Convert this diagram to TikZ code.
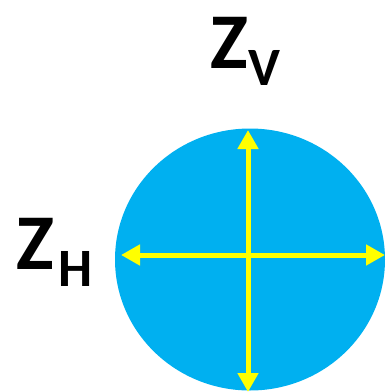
\documentclass[tikz,border=0pt]{standalone}
\usepackage{fontspec}
\setmainfont{Carlito}
\usetikzlibrary{arrows.meta}
\definecolor{skyblue}{HTML}{00B0F0}
\definecolor{brightyellow}{HTML}{FFFF00}
\tikzset{
  axisarrow/.style={draw=brightyellow, line width=5pt, {Triangle[width=20pt,length=19pt]}-{Triangle[width=20pt,length=19pt]}},
  biglabel/.style={inner sep=0pt, anchor=base west, font=\bfseries\fontsize{79}{80}\selectfont}
}
\newcommand{\subl}[1]{\raisebox{-17pt}{\fontsize{54}{56}\selectfont #1}}
\begin{document}
\begin{tikzpicture}[x=1pt,y=-1pt]
\useasboundingbox (0,0) rectangle (389,392);
\fill[skyblue] (250,259.5) ellipse [x radius=135, y radius=131];
\coordinate (top) at (248,130);
\coordinate (bottom) at (248,392);
\coordinate (left) at (121,255);
\coordinate (right) at (385,255);
\draw[axisarrow] (top) -- (bottom);
\draw[axisarrow] (left) -- (right);
\node[biglabel] (zv) at (210,68) {Z\kern0.5pt\subl{V}};
\node[biglabel] (zh) at (16,269) {Z\kern5pt\subl{H}};
\end{tikzpicture}
\end{document}
